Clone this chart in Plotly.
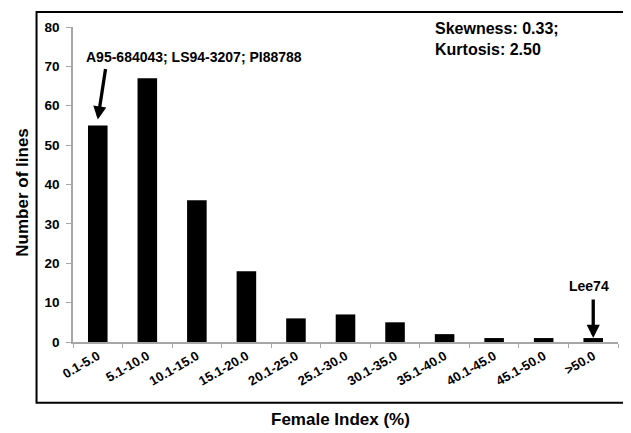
import plotly.graph_objects as go

categories = ["0.1-5.0", "5.1-10.0", "10.1-15.0", "15.1-20.0", "20.1-25.0",
              "25.1-30.0", "30.1-35.0", "35.1-40.0", "40.1-45.0", "45.1-50.0", ">50.0"]
counts = [55, 67, 36, 18, 6, 7, 5, 2, 1, 1, 1]
y_ticks = [0, 10, 20, 30, 40, 50, 60, 70, 80]

FONT = "Liberation Sans, Arial, sans-serif"
GRAY = "#A6A6A6"

# page has an 8px body margin; compensate so the plot lands where the reference has it
OFF = 8
PAGE_W, PAGE_H = 631, 433
W, H = PAGE_W - OFF, PAGE_H - OFF
PL, PR, PT, PB = 72.5, 618.0, 20.4, 342.0   # plot area in page pixels

fig = go.Figure(go.Bar(x=categories, y=counts, marker=dict(color="black", line=dict(width=0))))

def px(x):
    return (x - PL) / (PR - PL)

def py(y):
    return (PB - y) / (PB - PT)

fig.update_layout(
    width=W, height=H,
    margin=dict(l=PL - OFF, r=PAGE_W - PR, t=PT - OFF, b=PAGE_H - PB, pad=0),
    paper_bgcolor="white", plot_bgcolor="white",
    font=dict(family=FONT, color="black", weight="bold"),
    bargap=0.605,
    showlegend=False,
)
fig.update_xaxes(
    type="category", showline=True, linecolor=GRAY, linewidth=1.5,
    ticks="outside", tickson="boundaries", ticklen=4, tickcolor=GRAY, tickwidth=1,
    tickangle=-30, tickfont=dict(size=13, family=FONT, weight="bold", color="black"),
    showgrid=False, zeroline=False,
)
fig.update_yaxes(
    range=[0, 80], tickvals=y_ticks, showline=True, linecolor=GRAY, linewidth=1.5,
    ticks="outside", ticklen=5, tickcolor=GRAY, tickwidth=1, ticklabelstandoff=4,
    tickfont=dict(size=13.5, family=FONT, weight="bold", color="black"),
    showgrid=False, zeroline=False,
)

# outer border
fig.add_shape(type="rect", xref="paper", yref="paper",
              x0=px(36), x1=px(628.5), y0=py(404), y1=py(5),
              line=dict(color="black", width=2), fillcolor="rgba(0,0,0,0)", layer="above")

anns = [
    dict(text="Number of lines", x=px(22), y=py(190), textangle=-90,
         font=dict(size=17)),
    dict(text="Female Index (%)", x=px(340), y=py(421), font=dict(size=17)),
    dict(text="Skewness: 0.33;<br>Kurtosis: 2.50", x=px(433), y=py(32.5),
         xanchor="left", align="left", font=dict(size=16)),
    dict(text="A95-684043; LS94-3207; PI88788", x=px(194), y=py(51), font=dict(size=14)),
    dict(text="Lee74", x=px(589), y=py(285), font=dict(size=14)),
]
for a in anns:
    f = dict(family=FONT, color="black", weight="bold")
    f.update(a.pop("font"))
    fig.add_annotation(xref="paper", yref="paper", showarrow=False,
                       xanchor=a.pop("xanchor", "center"), yanchor="middle",
                       font=f, **a)

# arrows
fig.add_annotation(x=categories[0], y=56.5, xref="x", yref="y", text="",
                   showarrow=True, arrowhead=2, arrowwidth=3.3, arrowsize=0.8,
                   arrowcolor="black", ax=8, ay=-52, standoff=0)
fig.add_annotation(x=categories[-1], y=1.0, xref="x", yref="y", text="",
                   showarrow=True, arrowhead=2, arrowwidth=3.3, arrowsize=0.8,
                   arrowcolor="black", ax=0, ay=-40, standoff=0)

fig.write_html("out.html")
